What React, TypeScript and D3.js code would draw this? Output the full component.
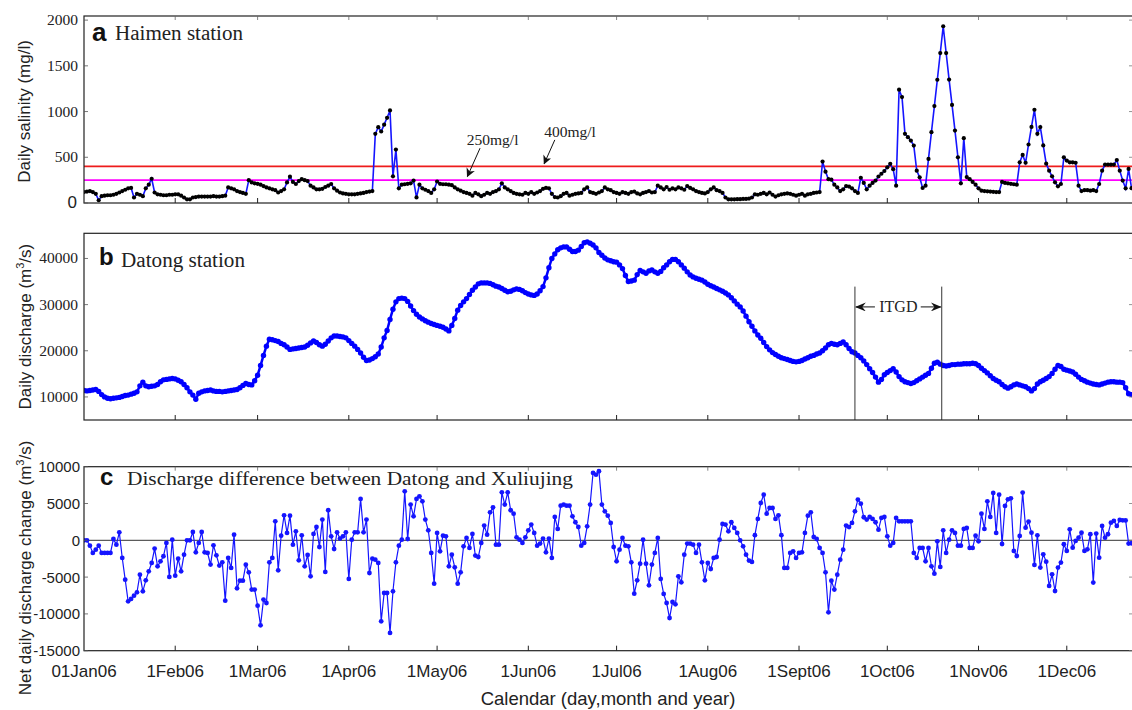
import React from 'react';
import * as d3 from 'd3';

// ---------- data ----------
const monthDays = [0, 31, 59, 90, 120, 151, 181, 212, 243, 273, 304, 334];
const monthLabels = ['01Jan06', '1Feb06', '1Mar06', '1Apr06', '1May06', '1Jun06', '1Jul06', '1Aug06', '1Sept06', '1Oct06', '1Nov06', '1Dec06'];

// Daily salinity at Haimen (mg/l), day 0 = 1 Jan 2006
const salinity = [
  120, 125, 130, 120, 100, 30, 75, 80, 85, 85,
  90, 100, 115, 130, 145, 160, 165, 60, 100, 90,
  75, 160, 200, 265, 115, 95, 90, 85, 85, 90,
  90, 95, 95, 80, 60, 40, 40, 60, 65, 70,
  70, 70, 70, 70, 75, 70, 70, 75, 80, 170,
  160, 150, 130, 120, 110, 100, 250, 225, 215, 210,
  200, 185, 170, 160, 150, 140, 115, 130, 150, 225,
  288, 230, 208, 240, 260, 250, 240, 190, 170, 150,
  150, 155, 175, 190, 208, 160, 135, 115, 105, 100,
  95, 95, 95, 100, 105, 110, 120, 125, 130, 756,
  829, 782, 857, 932, 1012, 292, 584, 160, 200, 205,
  210, 215, 245, 61, 200, 160, 145, 130, 110, 150,
  235, 210, 205, 205, 200, 195, 170, 150, 135, 120,
  110, 100, 80, 110, 95, 75, 90, 110, 100, 120,
  130, 150, 215, 170, 150, 130, 110, 100, 95, 90,
  110, 100, 120, 100, 115, 130, 155, 165, 160, 100,
  65, 60, 75, 100, 110, 80, 90, 100, 105, 110,
  150, 170, 120, 110, 100, 115, 130, 170, 150, 140,
  120, 110, 100, 120, 110, 100, 120, 125, 105, 95,
  110, 120, 130, 115, 120, 190, 170, 150, 175, 145,
  160, 150, 170, 160, 145, 185, 165, 150, 130, 120,
  110, 105, 120, 150, 170, 140, 130, 110, 60, 40,
  40, 40, 42, 42, 45, 45, 48, 60, 95, 90,
  100, 110, 95, 115, 90, 70, 85, 95, 100, 105,
  100, 90, 80, 90, 100, 80, 95, 100, 110, 115,
  120, 453, 343, 260, 255, 200, 170, 130, 150, 185,
  180, 160, 130, 110, 276, 220, 150, 190, 220, 245,
  290, 320, 350, 390, 428, 370, 190, 1239, 1158, 757,
  720, 683, 628, 354, 281, 164, 190, 482, 774, 1060,
  1348, 1640, 1933, 1640, 1350, 1073, 792, 500, 215, 709,
  283, 260, 230, 200, 160, 135, 130, 128, 125, 122,
  120, 120, 231, 220, 215, 210, 205, 200, 445, 526,
  440, 640, 832, 1020, 756, 830, 630, 430, 354, 292,
  226, 182, 208, 500, 464, 445, 445, 440, 190, 130,
  140, 140, 135, 140, 130, 208, 354, 420, 420, 420,
  420, 470, 354, 245, 160, 373, 162,
];

// Daily discharge at Datong (m3/s)
const discharge = [
  11400, 11300, 11400, 11500, 11600, 11200, 10500, 10000, 9700, 9600,
  9700, 9800, 9900, 10100, 10300, 10400, 10600, 10800, 11100, 12400,
  13200, 12400, 12200, 12300, 12400, 12700, 13300, 13700, 13800, 13900,
  14000, 13900, 13600, 13300, 12700, 12000, 11100, 10400, 9500, 10800,
  11100, 11300, 11400, 11500, 11300, 11200, 11200, 11100, 11200, 11300,
  11400, 11500, 11600, 12000, 12500, 12900, 12700, 12600, 13500, 14700,
  16800, 19000, 21000, 22500, 22400, 22200, 22000, 21600, 21300, 20800,
  20300, 20400, 20500, 20600, 20700, 20800, 21200, 21700, 22100, 21800,
  21300, 21000, 21400, 22100, 22800, 23200, 23200, 23100, 23000, 22800,
  22200, 21600, 21000, 20300, 19500, 18600, 17900, 18000, 18300, 18700,
  19300, 20800, 22800, 24400, 26800, 29000, 30600, 31300, 31400, 31300,
  30700, 29700, 28700, 27900, 27300, 26900, 26500, 26200, 25900, 25700,
  25500, 25300, 25100, 24700, 24300, 25500, 27000, 28800, 29800, 30600,
  31300, 32200, 33100, 33800, 34500, 34700, 34700, 34700, 34600, 34300,
  34000, 33800, 33500, 33100, 32800, 32900, 33200, 33400, 33300, 33000,
  32600, 32300, 32100, 32000, 32300, 33000, 33900, 35800, 38000, 40000,
  41000, 41900, 42300, 42500, 42500, 42000, 41500, 41500, 41800, 42600,
  43400, 43600, 43300, 42900, 42300, 41300, 40700, 40100, 39700, 39500,
  39300, 39200, 38600, 37800, 36300, 35000, 35100, 35300, 36500, 37400,
  37100, 36800, 37300, 37500, 37100, 36800, 37200, 38000, 38600, 39300,
  39800, 39800, 39300, 38600, 37900, 37100, 36400, 36000, 35700, 35500,
  35300, 34900, 34400, 34100, 33800, 33500, 33200, 32900, 32500, 32100,
  31500, 30800, 30100, 29500, 28600, 27500, 26300, 25300, 24300, 23400,
  22700, 21800, 20900, 20200, 19600, 19200, 18800, 18500, 18300, 18100,
  17900, 17700, 17600, 17700, 17900, 18200, 18500, 18800, 19000, 19300,
  19500, 20000, 20600, 21300, 21600, 21400, 21300, 21600, 21900, 21300,
  20500, 19800, 19500, 19000, 18500, 17800, 17000, 16100, 15300, 14300,
  13200, 13800, 14800, 15300, 15700, 16100, 15400, 14400, 13700, 13300,
  13100, 12900, 13100, 13500, 13900, 14300, 14700, 15100, 16200, 17300,
  17500, 17100, 16800, 16700, 16800, 17000, 17000, 17100, 17100, 17200,
  17200, 17200, 17300, 17200, 16800, 16200, 15700, 15200, 14600, 14000,
  13600, 13300, 12700, 12200, 11900, 12200, 12600, 12800, 12600, 12400,
  12200, 11800, 11300, 11800, 12800, 13300, 13600, 14000, 14400, 15100,
  16000, 16800, 16600, 16000, 15800, 15600, 15400, 14900, 14300, 13800,
  13500, 13200, 13000, 12800, 12700, 12600, 12800, 13000, 13200, 13300,
  13300, 13200, 13200, 13100, 12000, 10700, 10500,
];

// Net daily discharge change, Datong minus Xuliujing (m3/s)
const netChange = [
  0, 0, -725, -1720, -1270, -725, -1720, -1720, -1720, -1720,
  180, -590, 1090, -2400, -5350, -8290, -7970, -7520, -7070, -4670,
  -6930, -5440, -4210, -3080, -1130, -3530, -2850, -2170, -360, -4980,
  90, -4800, -2490, -4210, -1950, 0, 0, 1130, -1630, -360,
  1130, -1630, -1720, -3300, -680, -2040, -3440, -2990, -8200, -2400,
  -3760, 770, -6520, -5480, -5480, -3310, -4350, -6700, -6700, -8880,
  -11550, -8060, -8520, -2990, -2400, 2580, -4080, 630, 3400, 1000,
  3350, -590, 1220, -2720, 680, -3530, -2000, -4890, 860, 1810,
  -910, 2810, -4300, 4080, 540, -1180, 1090, 230, 540, 1090,
  -5250, 90, 1090, 1090, 5620, 1090, 2810, -4440, -2490, -2630,
  -3080, -11010, -7160, -7160, -12590, -6930, -2990, -725, 90, 6660,
  180, 4850, 3260, 5620, 5980, 5300, 2810, 1360, -1720, -5890,
  1000, -1500, 630, 540, -3530, -1950, -3670, -5890, -4350, -815,
  320, -1040, 860, -2080, -2270, -360, 2000, 770, 3800, 4480,
  -590, -590, 6520, 4850, 6520, 4080, 3620, 410, 90, -360,
  410, 1360, 2130, 1000, -725, -450, 230, -1630, 230, -2400,
  3170, 1540, 4710, 4850, 4710, 4710, 3260, 2450, 1810, -725,
  -360, 1900, 4850, 9150, 8920, 9380, 4850, 3940, 3350, 2360,
  -910, -2850, -1270, 320, -725, -815, -2990, -7250, -5440, -3170,
  90, -3170, -6120, -3300, -1720, 320, -5250, -7290, -8520, -10560,
  -8380, -8700, -4890, -5710, -1950, -450, -450, -590, -1720, -590,
  -2990, -5440, -3080, -3900, -2400, -2270, 90, 2220, 2130, 1220,
  2450, 1680, 1000, 0, -815, -1950, -2760, -2940, 700, 2900,
  5070, 6200, 3620, 4390, 4390, 2900, 3400, 700, -3760, -3760,
  -1720, -1500, -2400, -1720, -1630, 1000, 3350, 3800, 450, 180,
  -1040, -1720, -4350, -9780, -5480, -6700, -4670, -2630, -1270, 2000,
  1810, 2360, 3940, 5530, 4980, 3130, 2810, 3170, 2900, 2450,
  1450, 3040, 3170, 540, -725, -360, 3040, 2580, 2580, 2580,
  2580, 2580, -1720, -2400, -1040, -1040, -2850, -1040, -3530, -4530,
  -140, -3620, 1360, -1720, 90, 1360, 1000, -725, -725, 1540,
  1680, -1040, -1040, 630, -140, 3620, 1540, 5300, 3170, 6430,
  1000, 6200, -500, 4670, 5570, 5700, -1450, -2130, 590, 6480,
  1720, 2540, 1040, -3350, 680, -3710, -1900, -2900, -6200, -4620,
  -6890, -3710, -3030, -540, -1450, 1490, -1000, -90, 360, 1040,
  -1450, -1220, 820, -5750, 910, -2360, 1950, 360, 820, 2400,
  2630, 1950, 2760, 2720, 2700, -450, -400,
];

const salTicks = [0, 500, 1000, 1500, 2000];
const disTicks = [10000, 20000, 30000, 40000];
const netTicks = [-15000, -10000, -5000, 0, 5000, 10000];
const thresholdRed = 400;
const thresholdMagenta = 250;
const itgdDays = [262, 291.5];

const sans = "'Liberation Sans', Arial, Helvetica, sans-serif";
const serif = "'Liberation Serif', 'Times New Roman', Times, serif";

export default function App() {
  const W = 1132, H = 710;
  const L = 84, R = 1133;
  const x = d3.scaleLinear().domain([0, 356.5]).range([L, R]);
  const ya = d3.scaleLinear().domain([0, 2045]).range([203, 16]);
  const yb = d3.scaleLinear().domain([5000, 45450]).range([420, 233.3]);
  const yc = d3.scaleLinear().domain([-15000, 10000]).range([650.7, 466.7]);

  const lineA = d3.line<number>().x((_, i) => x(i)).y(v => ya(v));
  const lineB = d3.line<number>().x((_, i) => x(i)).y(v => yb(v));
  const lineC = d3.line<number>().x((_, i) => x(i)).y(v => yc(v));

  const panels = [
    { id: 'a', y: ya, top: 16, bottom: 203 },
    { id: 'b', y: yb, top: 233.3, bottom: 420 },
    { id: 'c', y: yc, top: 466.7, bottom: 650.7 },
  ];

  const frame = '#222';
  const blue = '#1515ff';

  const monthTicks = (top: number, bottom: number, withTop: boolean) =>
    monthDays.slice(1).map((d, i) => (
      <g key={i}>
        <line x1={x(d)} x2={x(d)} y1={bottom} y2={bottom - 5} stroke={frame} strokeWidth={1} />
        {withTop && <line x1={x(d)} x2={x(d)} y1={top} y2={top + 4} stroke="#666" strokeWidth={0.8} />}
      </g>
    ));

  const yTicks = (ticks: number[], y: (v: number) => number) =>
    ticks.map((t, i) => (
      <g key={i}>
        <line x1={L} x2={L + 4} y1={y(t)} y2={y(t)} stroke="#555" strokeWidth={0.8} />
        <line x1={R - 4} x2={R} y1={y(t)} y2={y(t)} stroke="#777" strokeWidth={0.8} />
      </g>
    ));

  const arrow250 = { tip: [130.3, 290], start: [134.6, 600], text: [130.1, 630] };
  const arrow400 = { tip: [156.4, 430], start: [160, 690], text: [156.4, 720] };
  const itgdTop = 33900;
  const itgdArrowV = 29500;

  return (
    <svg width={W} height={H} style={{ position: 'absolute', left: 0, top: 0, background: '#fff' }}
      xmlns="http://www.w3.org/2000/svg">
      <defs>
        {panels.map(p => (
          <clipPath id={`clip-${p.id}`} key={p.id}>
            <rect x={L} y={p.top} width={R - L} height={p.bottom - p.top} />
          </clipPath>
        ))}
        <marker id="arrowHead" viewBox="0 0 10 10" refX="9" refY="5" markerWidth="9" markerHeight="9"
          markerUnits="userSpaceOnUse" orient="auto">
          <path d="M0,0 L10,5 L0,10 L3,5 Z" fill="#111" />
        </marker>
        <marker id="stealth" viewBox="0 0 12 10" refX="11" refY="5" markerWidth="11" markerHeight="9"
          markerUnits="userSpaceOnUse" orient="auto">
          <path d="M0,0 L12,5 L0,10 L4,5 Z" fill="#111" />
        </marker>
      </defs>
      <rect x={0} y={0} width={W} height={H} fill="#fff" />

      {/* ---------- Panel a ---------- */}
      <g clipPath="url(#clip-a)">
        <line x1={L} x2={R} y1={ya(thresholdRed)} y2={ya(thresholdRed)} stroke="#ee1c1c" strokeWidth={1.6} />
        <line x1={L} x2={R} y1={ya(thresholdMagenta)} y2={ya(thresholdMagenta)} stroke="#ff00ff" strokeWidth={1.6} />
        <path d={lineA(salinity) || ''} fill="none" stroke={blue} strokeWidth={1.6} />
        {salinity.map((v, i) => (
          <circle key={i} cx={x(i)} cy={ya(v)} r={2.1} fill="#000" />
        ))}
      </g>
      <rect x={L} y={16} width={R - L} height={203 - 16} fill="none" stroke={frame} strokeWidth={1.2} />
      {monthTicks(16, 203, true)}
      {yTicks(salTicks, ya)}
      {salTicks.map((t, i) => (
        <text key={i} x={t === 0 ? 77 : 78} y={ya(t) + 5} textAnchor="end"
          fontFamily={t === 0 ? sans : serif} fontSize={t === 0 ? 17 : 15.5} fill="#222">{t}</text>
      ))}
      <text x={92} y={40.5} fontFamily={sans} fontWeight="bold" fontSize={26} fill="#111">a</text>
      <text x={115} y={40} fontFamily={serif} fontSize={20} fill="#222" textLength={128} lengthAdjust="spacingAndGlyphs">Haimen station</text>
      <text transform={`translate(30,${(16 + 203) / 2 + 2}) rotate(-90)`} textAnchor="middle"
        fontFamily={sans} fontSize={17} fill="#222">Daily salinity (mg/l)</text>

      {/* annotations */}
      <line x1={x(arrow250.start[0])} y1={ya(arrow250.start[1])} x2={x(arrow250.tip[0])} y2={ya(arrow250.tip[1])}
        stroke="#111" strokeWidth={1} markerEnd="url(#arrowHead)" />
      <text x={x(arrow250.text[0])} y={ya(arrow250.text[1])} fontFamily={serif} fontSize={15.5} fill="#222">250mg/l</text>
      <line x1={x(arrow400.start[0])} y1={ya(arrow400.start[1])} x2={x(arrow400.tip[0])} y2={ya(arrow400.tip[1])}
        stroke="#111" strokeWidth={1} markerEnd="url(#arrowHead)" />
      <text x={x(arrow400.text[0])} y={ya(arrow400.text[1])} fontFamily={serif} fontSize={15.5} fill="#222">400mg/l</text>

      {/* ---------- Panel b ---------- */}
      <g clipPath="url(#clip-b)">
        <path d={lineB(discharge) || ''} fill="none" stroke="#0000ff" strokeWidth={2.5} />
        {discharge.map((v, i) => (
          <circle key={i} cx={x(i)} cy={yb(v)} r={2.7} fill="#0000ff" />
        ))}
        {itgdDays.map((d, i) => (
          <line key={i} x1={x(d)} x2={x(d)} y1={yb(itgdTop)} y2={420} stroke="#333" strokeWidth={1} />
        ))}
      </g>
      <rect x={L} y={233.3} width={R - L} height={420 - 233.3} fill="none" stroke={frame} strokeWidth={1.2} />
      {monthTicks(233.3, 420, false)}
      {yTicks(disTicks, yb)}
      {disTicks.map((t, i) => (
        <text key={i} x={78} y={yb(t) + 5} textAnchor="end" fontFamily={serif} fontSize={15.5} fill="#222">{t}</text>
      ))}
      <text x={99} y={265} fontFamily={sans} fontWeight="bold" fontSize={24} fill="#111">b</text>
      <text x={121} y={266.5} fontFamily={serif} fontSize={20} fill="#222" textLength={124} lengthAdjust="spacingAndGlyphs">Datong station</text>
      <text transform={`translate(31,${(233.3 + 420) / 2}) rotate(-90)`} textAnchor="middle"
        fontFamily={sans} fontSize={17} fill="#222">Daily discharge (m<tspan dy={-7} fontSize={11}>3</tspan><tspan dy={7}>/s)</tspan></text>
      {/* ITGD */}
      <line x1={x(itgdDays[0]) + 20} x2={x(itgdDays[0]) + 1} y1={yb(itgdArrowV)} y2={yb(itgdArrowV)}
        stroke="#111" strokeWidth={1} markerEnd="url(#stealth)" />
      <line x1={x(itgdDays[1]) - 21} x2={x(itgdDays[1]) - 1} y1={yb(itgdArrowV)} y2={yb(itgdArrowV)}
        stroke="#111" strokeWidth={1} markerEnd="url(#stealth)" />
      <text x={(x(itgdDays[0]) + x(itgdDays[1])) / 2} y={yb(itgdArrowV) + 5.5} textAnchor="middle"
        fontFamily={serif} fontSize={16} fill="#222">ITGD</text>

      {/* ---------- Panel c ---------- */}
      <g clipPath="url(#clip-c)">
        <line x1={L} x2={R} y1={yc(0)} y2={yc(0)} stroke="#333" strokeWidth={1} />
        <path d={lineC(netChange) || ''} fill="none" stroke={blue} strokeWidth={1.2} />
        {netChange.map((v, i) => (
          <circle key={i} cx={x(i)} cy={yc(v)} r={2.4} fill={blue} />
        ))}
      </g>
      <rect x={L} y={466.7} width={R - L} height={650.7 - 466.7} fill="none" stroke={frame} strokeWidth={1.2} />
      {monthTicks(466.7, 650.7, true)}
      {yTicks(netTicks, yc)}
      {netTicks.map((t, i) => (
        <text key={i} x={80} y={yc(t) + 5.5} textAnchor="end" fontFamily={sans} fontSize={15} fill="#222">{t}</text>
      ))}
      <text x={100} y={485} fontFamily={sans} fontWeight="bold" fontSize={24} fill="#111">c</text>
      <text x={127} y={485} fontFamily={serif} fontSize={19} fill="#222" textLength={446} lengthAdjust="spacingAndGlyphs">Discharge difference between Datong and Xuliujing</text>
      <text transform={`translate(31,${568}) rotate(-90)`} textAnchor="middle"
        fontFamily={sans} fontSize={17} fill="#222">Net daily discharge change (m<tspan dy={-7} fontSize={11}>3</tspan><tspan dy={7}>/s)</tspan></text>

      {/* x axis labels */}
      {monthDays.map((d, i) => (
        <text key={i} x={x(d)} y={677} textAnchor="middle" fontFamily={sans} fontSize={17} fill="#222">{monthLabels[i]}</text>
      ))}
      <text x={608} y={705} textAnchor="middle" fontFamily={sans} fontSize={18.5} fill="#222">Calendar (day,month and year)</text>
    </svg>
  );
}
